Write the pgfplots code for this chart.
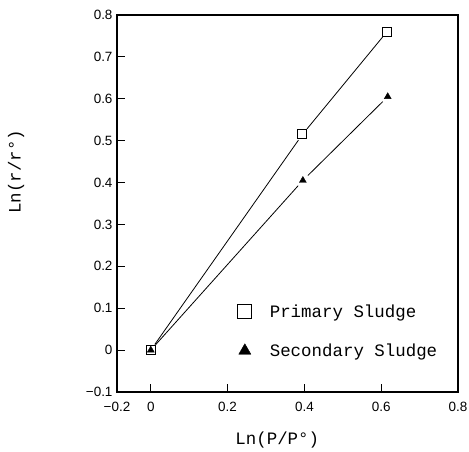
\documentclass[border=0pt]{standalone}
\usepackage{fontspec}
\setmainfont{Liberation Sans}
\setmonofont{Liberation Mono}
\usepackage{pgfplots}
\pgfplotsset{compat=1.18}
\begin{document}
\begin{tikzpicture}
\useasboundingbox (-117bp,-60bp) rectangle (352bp,392bp);
\begin{axis}[
  at={(0,0)}, anchor=south west,
  scale only axis, width=341bp, height=377bp,
  xmin=-0.088, xmax=0.8, ymin=-0.1, ymax=0.8,
  xtick={-0.088,0,0.2,0.4,0.6,0.8},
  xticklabels={−0.2,0,0.2,0.4,0.6,0.8},
  ytick={-0.1,0,0.1,0.2,0.3,0.4,0.5,0.6,0.7,0.8},
  yticklabels={−0.1,0,0.1,0.2,0.3,0.4,0.5,0.6,0.7,0.8},
  tick pos=left, tick align=inside, major tick length=8bp,
  axis line style={line width=1.2bp},
  tick style={line width=0.9bp, black},
  ticklabel style={font=\fontsize{13.5}{15}\selectfont},
  xticklabel style={yshift=-7bp},
  yticklabel style={xshift=-1bp},
  xlabel={Ln(P/P°)}, ylabel={Ln(r/r°)},
  label style={font=\ttfamily\fontsize{17.5}{20}\selectfont},
  xlabel style={at={(axis description cs:0.47,-0.127)}, anchor=center},
  ylabel style={at={(axis description cs:-0.296,0.584)}, anchor=center},
  legend style={draw=none, fill=none, at={(axis description cs:0.345,0.243)},
    anchor=north west, row sep=21bp,
    font=\ttfamily\fontsize{17.5}{20}\selectfont,
    /tikz/every odd column/.append style={column sep=16bp}},
  legend cell align=left,
  legend image post style={mark size=7bp},
]
% fitted lines, drawn with small gaps at the markers
\addplot[black, line width=0.8bp, shorten <=7bp, shorten >=7bp, forget plot]
  coordinates {(0,0) (0.395,0.515)};
\addplot[black, line width=0.8bp, shorten <=7bp, shorten >=7bp, forget plot]
  coordinates {(0.395,0.515) (0.615,0.76)};
\addplot[black, line width=0.8bp, shorten <=7bp, shorten >=7bp, forget plot]
  coordinates {(0,0) (0.396,0.405)};
\addplot[black, line width=0.8bp, shorten <=7bp, shorten >=7bp, forget plot]
  coordinates {(0.396,0.405) (0.617,0.605)};
% measured points
\addplot[only marks, black, mark=square, mark size=4.5bp, mark options={line width=1bp}]
  coordinates {(0,0) (0.395,0.515) (0.615,0.76)};
\addlegendentry{Primary Sludge}
\addplot[only marks, black, mark=triangle*, mark size=4bp]
  coordinates {(0,0) (0.396,0.405) (0.617,0.605)};
\addlegendentry{Secondary Sludge}
\end{axis}
\end{tikzpicture}
\end{document}
